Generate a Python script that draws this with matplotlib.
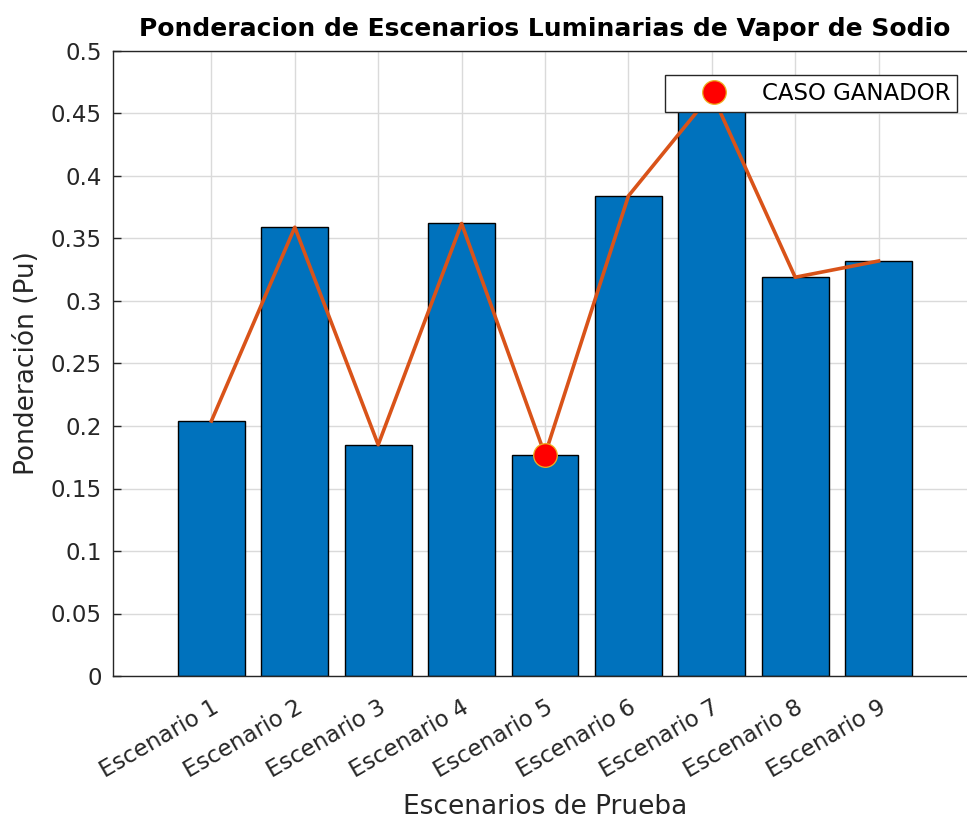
import matplotlib
matplotlib.use("Agg")
import matplotlib.pyplot as plt
import numpy as np

# datos
escenarios = ['Escenario 1', 'Escenario 2', 'Escenario 3', 'Escenario 4', 'Escenario 5',
              'Escenario 6', 'Escenario 7', 'Escenario 8', 'Escenario 9']
ponderacion = [0.204, 0.359, 0.185, 0.362, 0.177, 0.384, 0.466, 0.319, 0.332]
ganador = 5  # escenario con menor ponderacion
y_ticks = [0, 0.05, 0.1, 0.15, 0.2, 0.25, 0.3, 0.35, 0.4, 0.45, 0.5]

plt.rcParams['font.family'] = ['DejaVu Sans']

fig = plt.figure(figsize=(9.67, 8.24), dpi=100)
ax = fig.add_axes([113 / 967, 1 - 676 / 824, (977 - 113) / 967, (676 - 51) / 824])

x = np.arange(1, len(escenarios) + 1)
ax.bar(x, ponderacion, width=0.8, color='#0072BD', edgecolor='black', linewidth=1.0, zorder=2)
ax.plot(x, ponderacion, color='#D95319', linewidth=2.6, zorder=3)
ax.plot(ganador, ponderacion[ganador - 1], 'o', color='red', markersize=17,
        markeredgecolor='#EDB120', markeredgewidth=0.9, zorder=4, label='CASO GANADOR')

ax.set_xlim(-0.18, 10.18)
ax.set_ylim(0, 0.5)
ax.set_yticks(y_ticks)
ax.set_yticklabels([f'{v:g}' for v in y_ticks])
ax.set_xticks(x)
ax.set_xticklabels(escenarios, rotation=30, ha='right', rotation_mode='anchor')

ax.grid(True, color='#DADADA', linewidth=1.0, zorder=0)
ax.set_axisbelow(True)
ax.tick_params(direction='in', length=6, width=1, colors='#262626', labelsize=16.5)
ax.tick_params(axis='x', pad=14)
ax.tick_params(axis='y', pad=8)
for s in ax.spines.values():
    s.set_color('#262626')
    s.set_linewidth(1.0)

ax.set_title('Ponderacion de Escenarios Luminarias de Vapor de Sodio',
             fontsize=18, fontweight='bold', pad=11, x=0.5)
ax.set_xlabel('Escenarios de Prueba', fontsize=19, color='#262626', labelpad=9)
ax.set_ylabel('Ponderación (Pu)', fontsize=19, color='#262626', labelpad=8)

leg = ax.legend(loc='upper right', bbox_to_anchor=(957 / 967, 1 - 75 / 824),
                bbox_transform=fig.transFigure, fontsize=16.5, fancybox=False,
                framealpha=1, edgecolor='#262626', handlelength=3.6,
                handletextpad=0.3, borderpad=0.3, borderaxespad=0, markerscale=1.0)
leg.get_frame().set_linewidth(1.0)

fig.savefig('out.png', dpi=100)
